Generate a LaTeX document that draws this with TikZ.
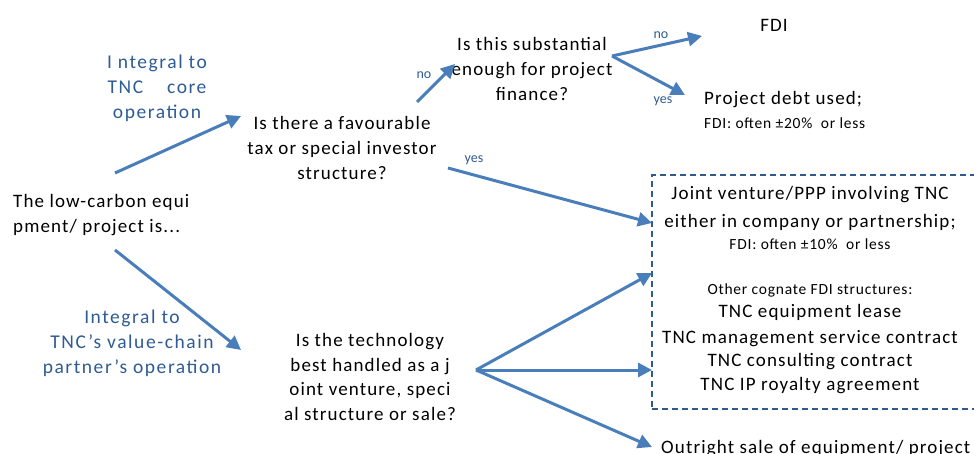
\documentclass[tikz,border=0pt]{standalone}
\usepackage{fontspec}
\setmainfont{Carlito}
\newfontfamily\spaced[LetterSpace=6]{Carlito}
\newfontfamily\spacedsm[LetterSpace=5]{Carlito}
\newfontfamily\spacedlb[LetterSpace=8]{Carlito}
\usetikzlibrary{arrows.meta}
\definecolor{arrblue}{HTML}{4A7EBB}
\definecolor{lblblue}{HTML}{2F5C94}
\definecolor{boxblue}{HTML}{2F5A8C}
\tikzset{
  arr/.style={draw=arrblue, line width=3pt, -{Triangle[length=14pt,width=14pt]}},
  txt/.style={inner sep=0pt, font=\spaced\fontsize{19}{24.7}\selectfont, text=black},
  small/.style={inner sep=0pt, font=\spacedsm\fontsize{15.5}{17}\selectfont, text=black},
  lbl/.style={inner sep=0pt, font=\spacedlb\fontsize{19.5}{25}\selectfont, text=lblblue, align=center},
  yn/.style={inner sep=0pt, font=\fontsize{14}{16}\selectfont, text=lblblue},
  dashbox/.style={draw=boxblue, line width=1.8pt, dash pattern=on 6pt off 4pt}
}
\begin{document}
\begin{tikzpicture}[x=1pt,y=-1pt]
\useasboundingbox (0,0) rectangle (974,454);
\clip (0,0) rectangle (974,454);
\fill[white] (0,0) rectangle (974,454);

% nodes
\node[txt, anchor=west, align=left] (start) at (13,215) {The low-carbon equi\\pment/ project is...};
\node[txt, align=center] (tax) at (342,148) {Is there a favourable\\tax or special investor\\structure?};
\node[txt, align=center] (subst) at (532,69) {Is this substantial\\enough for project\\finance?};
\node[txt, align=center] (tech) at (370,377) {Is the technology\\best handled as a j\\oint venture, speci\\al structure or sale?};
\node[txt] (fdi) at (774,25) {FDI};
\node[txt, anchor=west] (debt) at (704,100) {Project debt used;};
\node[small, anchor=west] (debtnote) at (704,123) {FDI: often ±20\%\ \ or less};

% dashed box
\node[dashbox, anchor=north west, minimum width=340pt, minimum height=234pt, inner sep=0pt] (box) at (651,174) {};
\node[txt] (jv1) at (810,195) {Joint venture/PPP involving TNC};
\node[txt] (jv2) at (810,222) {either in company or partnership;};
\node[small] (jvnote) at (810,244) {FDI: often ±10\%\ \ or less};
\node[small] (other) at (810,290) {Other cognate FDI structures:};
\node[txt] (lease) at (810,312) {TNC equipment lease};
\node[txt] (mgmt) at (810,339) {TNC management service contract};
\node[txt] (cons) at (810,362) {TNC consulting contract};
\node[txt] (ip) at (810,386) {TNC IP royalty agreement};
\node[txt, anchor=base west] (sale) at (661,453) {Outright sale of equipment/ project};

% blue labels
\node[lbl] (core) at (157,88) {I ntegral to\\TNC\hspace{24pt}core\\operation};
\node[lbl] (chain) at (132,343) {Integral to\\TNC’s value-chain\\partner’s operation};
\node[yn] (no1) at (424,75) {no};
\node[yn] (yes1) at (474,160) {yes};
\node[yn] (no2) at (661,35) {no};
\node[yn] (yes2) at (663,101) {yes};

% connector end points
\coordinate (s1) at (115,173);
\coordinate (e1) at (241,116);
\coordinate (s2) at (115,250);
\coordinate (e2) at (241,350);
\coordinate (s3) at (417,102);
\coordinate (e3) at (455,64);
\coordinate (s4) at (448,168);
\coordinate (e4) at (652,223);
\coordinate (s5) at (612,56);
\coordinate (e5) at (702,36);
\coordinate (e6) at (685,95);
\coordinate (s7) at (476,370);
\coordinate (e7) at (652,273);
\coordinate (e8) at (652,370);
\coordinate (e9) at (652,447);

\draw[arr] (s1) -- (e1);
\draw[arr] (s2) -- (e2);
\draw[arr] (s3) -- (e3);
\draw[arr] (s4) -- (e4);
\draw[arr] (s5) -- (e5);
\draw[arr] (s5) -- (e6);
\draw[arr] (s7) -- (e7);
\draw[arr] (s7) -- (e8);
\draw[arr] (s7) -- (e9);
\end{tikzpicture}
\end{document}
